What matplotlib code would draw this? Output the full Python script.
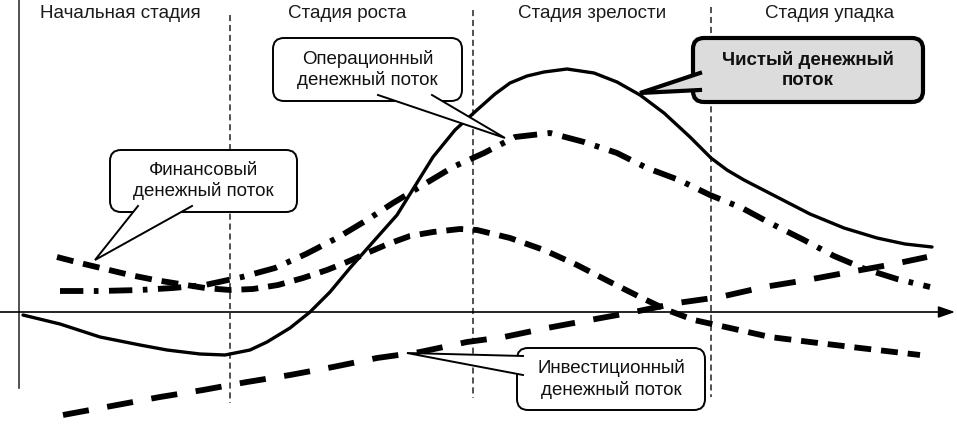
import matplotlib
matplotlib.use("Agg")
import matplotlib.pyplot as plt
from matplotlib.patches import FancyBboxPatch, Polygon

plt.rcParams['font.family'] = ['Liberation Sans', 'DejaVu Sans']

# stage labels along the top
stages = ["Начальная стадия", "Стадия роста", "Стадия зрелости", "Стадия упадка"]
stage_centers = [120, 347, 592, 830]
stage_bounds = [230, 473, 711]

# cash flow curves (x = time, y = cash flow, 0 on the axis)
t_net = [23, 60, 100, 140, 167, 200, 225, 250, 267, 290, 310, 330, 350, 373, 397,
         415, 433, 455, 477, 495, 510, 527, 544, 567, 594, 617, 640, 664, 690, 711,
         727, 744, 777, 810, 844, 877, 905, 932]
net_cf = [-3, -12, -25, -33, -38, -42, -43, -38, -30, -16, 0, 20, 44, 70, 97,
          126, 155, 182, 202, 218, 229, 236, 240, 243, 239, 230, 217, 199, 175, 154,
          142, 132, 115, 98, 84, 74, 68, 65]

t_oper = [60, 100, 140, 173, 205, 242, 275, 306, 337, 367, 393, 423, 453, 484, 515,
          550, 584, 617, 647, 679, 710, 742, 770, 804, 834, 865, 897, 930]
oper_cf = [21, 21, 22, 24, 27, 35, 44, 58, 74, 92, 109, 127, 145, 159, 175,
           179, 170, 159, 144, 132, 117, 104, 89, 72, 56, 43, 33, 25]

t_fin = [57, 80, 105, 130, 155, 180, 205, 230, 253, 278, 303, 327, 347, 367, 388,
         410, 433, 460, 477, 510, 544, 577, 610, 640, 667, 694, 730, 770, 810, 860, 920]
fin_cf = [55, 49, 43, 37, 32, 28, 24, 22, 23, 27, 34, 42, 50, 59, 68,
          76, 80, 83, 82, 74, 62, 47, 30, 15, 2, -8, -16, -25, -30, -36, -43]

t_inv = [63, 117, 160, 203, 247, 290, 333, 377, 420, 467, 504, 547, 590, 634, 677,
         720, 764, 807, 850, 894, 927]
inv_cf = [-103, -93, -85, -78, -70, -63, -55, -46, -40, -30, -25, -16, -8, 0, 9,
          15, 25, 32, 40, 48, 55]

AXIS = 312  # pixel row of the time axis


def Y(py):
    return AXIS - py


fig = plt.figure(figsize=(9.57, 4.30), dpi=100)
ax = fig.add_axes([0, 0, 1, 1])
ax.set_xlim(0, 957)
ax.set_ylim(Y(430), Y(0))
ax.axis("off")

# axes
ax.plot([19, 19], [Y(0), Y(388)], color="#333333", lw=1.2)
ax.annotate("", xy=(955, 0), xytext=(0, 0),
            arrowprops=dict(arrowstyle="-|>,head_length=1.0,head_width=0.35",
                            color="black", lw=1.2, shrinkA=0, shrinkB=0))

# stage borders
for x, top, bot in zip(stage_bounds, [15, 10, 7], [403, 398, 397]):
    ax.plot([x, x], [Y(top), Y(bot)], color="#222222", lw=1.1,
            linestyle=(0, (4, 2.5)))

for name, cx in zip(stages, stage_centers):
    ax.text(cx, Y(14), name, ha="center", va="center", fontsize=13.5, color="#1a1a1a")

# curves
ax.plot(t_inv, inv_cf, color="black", lw=4.2, linestyle=(0, (4.5, 3.2)))
ax.plot(t_fin, fin_cf, color="black", lw=4.2, linestyle=(0, (2.9, 1.7)))
ax.plot(t_oper, oper_cf, color="black", lw=4.2, linestyle=(0, (4, 1.8, 0.8, 1.8)))
ax.plot(t_net, net_cf, color="black", lw=2.4, solid_capstyle="round",
        solid_joinstyle="round")


def callout(x0, y0, x1, y1, base, tip, text, fc="white", lw=1.4, bold=False):
    box = FancyBboxPatch((x0, Y(y1)), x1 - x0, y1 - y0,
                         boxstyle="round,pad=0,rounding_size=11",
                         fc=fc, ec="black", lw=lw, zorder=5)
    ax.add_patch(box)
    b1, b2 = base
    pts = [(b1[0], Y(b1[1])), (tip[0], Y(tip[1])), (b2[0], Y(b2[1]))]
    ax.add_patch(Polygon(pts, closed=True, fc=fc, ec="none", zorder=6))
    ax.plot([pts[0][0], pts[1][0], pts[2][0]], [pts[0][1], pts[1][1], pts[2][1]],
            color="black", lw=lw, zorder=7, solid_joinstyle="miter")
    ax.text((x0 + x1) / 2, Y((y0 + y1) / 2), text, ha="center", va="center",
            fontsize=13.5, linespacing=1.25, zorder=8,
            fontweight="bold" if bold else "normal", color="#111111")


callout(273, 38, 462, 101, ((378, 95), (432, 95)), (505, 138),
        "Операционный\nденежный поток")
callout(110, 150, 297, 212, ((138, 206), (192, 206)), (95, 260),
        "Финансовый\nденежный поток")
callout(517, 348, 705, 410, ((523, 356), (523, 375)), (407, 353),
        "Инвестиционный\nденежный поток")
callout(693, 38, 923, 102, ((700, 73), (700, 90)), (640, 93),
        "Чистый денежный\nпоток", fc="#dcdcdc", lw=3.0, bold=True)

fig.savefig("out.png", dpi=100)
